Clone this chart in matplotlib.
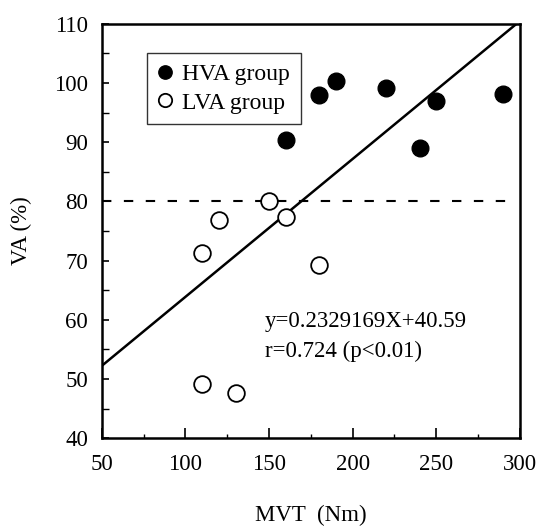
import matplotlib
matplotlib.use("Agg")
import matplotlib.pyplot as plt
import numpy as np
from matplotlib.ticker import MultipleLocator

plt.rcParams['font.family'] = ['Liberation Serif', 'DejaVu Serif']

hva_x = [160, 180, 190, 220, 250, 240, 290]
hva_y = [90.4, 98, 100.4, 99.1, 97, 89, 98.2]
lva_x = [150, 120, 160, 110, 180, 110, 130]
lva_y = [80, 76.9, 77.4, 71.3, 69.2, 49.2, 47.7]
slope = 0.2329169
intercept = 40.59
threshold = 80

fig = plt.figure(figsize=(5.36, 5.28), dpi=100)
ax = fig.add_axes([0.19, 0.170, 0.78, 0.785])

ax.plot(hva_x, hva_y, 'o', color='black', markersize=12, label='HVA group', zorder=3)
ax.plot(lva_x, lva_y, 'o', markerfacecolor='white', markeredgecolor='black',
        markeredgewidth=1.3, markersize=12, label='LVA group', zorder=3)

xl = np.array([50, 300])
ax.plot(xl, slope * xl + intercept, color='black', linewidth=1.8, zorder=2)
ax.plot([50, 292], [threshold, threshold], color='black', linewidth=1.5,
        linestyle=(0, (4.5, 6)), zorder=1)

ax.set_xlim(50, 300)
ax.set_ylim(40, 110)
ax.xaxis.set_major_locator(MultipleLocator(50))
ax.xaxis.set_minor_locator(MultipleLocator(25))
ax.yaxis.set_major_locator(MultipleLocator(10))
ax.yaxis.set_minor_locator(MultipleLocator(5))
ax.tick_params(axis='both', which='both', direction='in', top=False, right=False, labelsize=16.5)
ax.tick_params(axis='x', which='major', length=7, width=1.2, pad=11)
ax.tick_params(axis='x', which='minor', length=3, width=1.0)
ax.tick_params(axis='y', which='major', length=5, width=1.2, pad=10)
ax.tick_params(axis='y', which='minor', length=5, width=1.0)
for s in ax.spines.values():
    s.set_linewidth(1.8)

ax.set_xlabel('MVT  (Nm)', fontsize=16.5, labelpad=22)
ax.set_ylabel('VA (%)', fontsize=16.5, labelpad=16)

ax.text(147.5, 59.7, 'y=0.2329169X+40.59', fontsize=16.5, va='center', ha='left')
ax.text(147.5, 54.6, 'r=0.724 (p<0.01)', fontsize=16.5, va='center', ha='left')

leg = ax.legend(loc='upper left', bbox_to_anchor=(0.108, 0.93), borderaxespad=0,
                fontsize=17, frameon=True, fancybox=False, edgecolor='black',
                handlelength=0.6, handletextpad=0.45, borderpad=0.45,
                labelspacing=0.3, markerscale=0.8)
leg.get_frame().set_linewidth(1.0)

fig.savefig('out.png', dpi=100)
